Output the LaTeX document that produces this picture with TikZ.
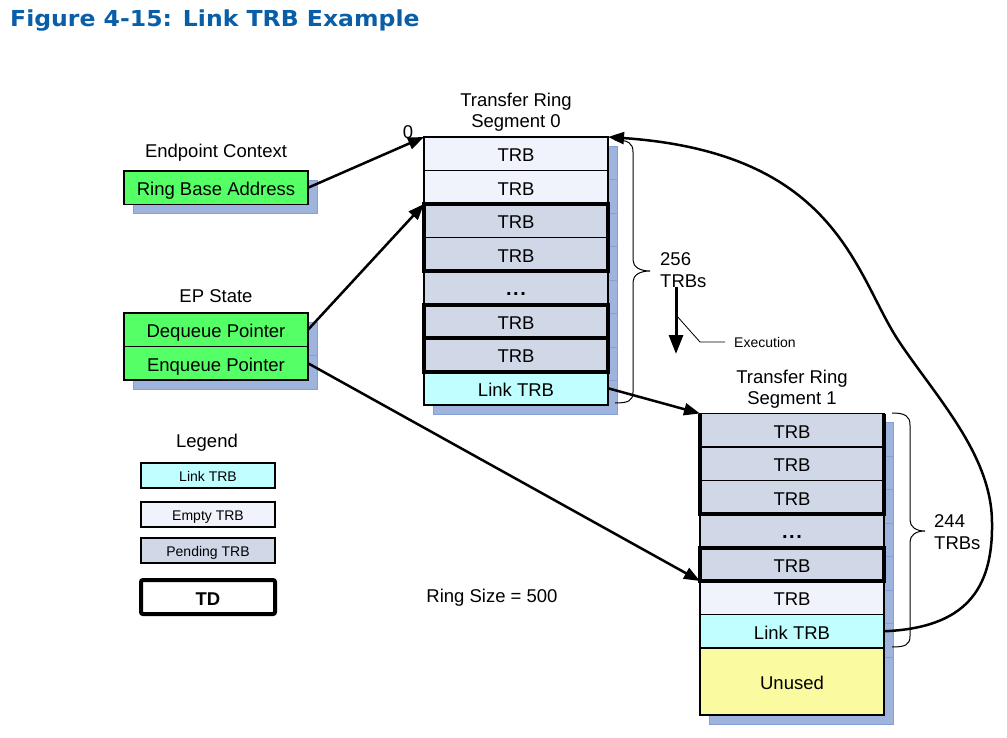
\documentclass[tikz,border=0pt]{standalone}
\usepackage{fontspec}
\setmainfont{Liberation Sans}
\newfontfamily\titlefont{DejaVu Sans}
\usetikzlibrary{arrows.meta}
\definecolor{titleblue}{RGB}{10,94,168}
\definecolor{emptyc}{RGB}{240,243,251}
\definecolor{pendc}{RGB}{208,216,232}
\definecolor{linkc}{RGB}{192,255,255}
\definecolor{unusedc}{RGB}{250,250,160}
\definecolor{greenc}{RGB}{85,255,102}
\definecolor{shadowc}{RGB}{158,180,221}
\definecolor{shadowl}{RGB}{132,160,214}
\newcommand{\mainsz}{\fontsize{18.5}{21.5}\selectfont}
\newcommand{\smallsz}{\fontsize{14}{17}\selectfont}
\newcommand{\bigdots}{{\fontsize{20}{22}\selectfont\bfseries .\kern1.5pt.\kern1.5pt.}}
\begin{document}
\begin{tikzpicture}[x=1pt,y=-1pt,
  every node/.style={font=\mainsz},
  box/.style={draw, rectangle, line width=1.2pt, minimum width=184pt, minimum height=33.5pt,
    inner sep=0pt, outer sep=0pt, text height=17pt, text depth=1pt, anchor=north west},
  emptyrow/.style={box, fill=emptyc},
  pendrow/.style={box, fill=pendc},
  linkrow/.style={box, fill=linkc},
  greenbox/.style={box, fill=greenc},
  shadowbox/.style={fill=shadowc, draw=shadowl, line width=0.8pt},
  legbox/.style={draw, rectangle, line width=1.2pt, minimum width=134pt, minimum height=25pt,
    inner sep=0pt, font=\smallsz, text height=13pt, text depth=1pt},
  td/.style={draw, line width=4pt},
  arr/.style={line width=2.5pt, -{Triangle[length=16pt,width=12pt]}},
  brace/.style={draw, line width=1pt},
  lbl/.style={inner sep=0pt}
]
\useasboundingbox (0,0) rectangle (1007,738);

% title
\node[anchor=base west, inner sep=0pt, text=titleblue, font=\titlefont\bfseries\fontsize{22}{26}\selectfont] (title) at (10,27)
  {\scalebox{1.07}[1]{Figure 4-15: Link TRB Example}};

% shadows
\foreach \y in {137,170.5,204,237.5,271,304.5,338,371.5}
  \draw[shadowbox] (433,\y+9) rectangle ++(184,33.5);
\foreach \y in {413.5,447,480.5,514,547.5,581,614.5}
  \draw[shadowbox] (709,\y+9) rectangle ++(184,33.5);
\draw[shadowbox] (709,657) rectangle ++(184,67);
\draw[shadowbox] (133,180) rectangle ++(184,33.5);
\draw[shadowbox] (133,322) rectangle ++(184,33.5);
\draw[shadowbox] (133,355.5) rectangle ++(184,33.5);

% left side
\node[lbl] (epc) at (216,153) {Endpoint Context};
\node[greenbox] (rba) at (124,171) {Ring Base Address};
\node[lbl] (eps) at (216,296) {EP State};
\node[greenbox] (deq) at (124,313) {Dequeue Pointer};
\node[greenbox] (enq) at (124,346.5) {Enqueue Pointer};

% segment 0
\node[lbl, align=center] (t0) at (516,112) {Transfer Ring\\Segment 0};
\node[lbl] (zero) at (408,132) {0};
\node[emptyrow] (s0r1) at (424,137) {TRB};
\node[emptyrow] (s0r2) at (424,170.5) {TRB};
\node[pendrow] (s0r3) at (424,204) {TRB};
\node[pendrow] (s0r4) at (424,237.5) {TRB};
\node[pendrow] (s0r5) at (424,271) {\bigdots};
\node[pendrow] (s0r6) at (424,304.5) {TRB};
\node[pendrow] (s0r7) at (424,338) {TRB};
\node[linkrow] (s0r8) at (424,371.5) {Link TRB};
\draw[td] (s0r3.north west) rectangle (s0r4.south east);
\draw[td] (s0r6.north west) rectangle (s0r6.south east);
\draw[td] (s0r7.north west) rectangle (s0r7.south east);

% segment 1
\node[lbl, align=center] (t1) at (792,389) {Transfer Ring\\Segment 1};
\node[pendrow] (s1r1) at (700,413.5) {TRB};
\node[pendrow] (s1r2) at (700,447) {TRB};
\node[pendrow] (s1r3) at (700,480.5) {TRB};
\node[pendrow] (s1r4) at (700,514) {\bigdots};
\node[pendrow] (s1r5) at (700,547.5) {TRB};
\node[emptyrow] (s1r6) at (700,581) {TRB};
\node[linkrow] (s1r7) at (700,614.5) {Link TRB};
\node[box, fill=unusedc, minimum height=67pt] (s1r8) at (700,648) {Unused};
\draw[td] (s1r1.north west) -- (s1r3.south west) -- (s1r3.south east) -- (s1r1.north east);
\draw[td] (s1r5.north west) rectangle (s1r5.south east);

% braces
\draw[brace] (615,140) .. controls (628,140) and (633,143) .. (633,152) -- (633,260)
  .. controls (633,267) and (640,271) .. (650,271) .. controls (640,271) and (633,275) .. (633,282)
  -- (633,392) .. controls (633,401) and (628,403) .. (615,403);
\node[lbl, anchor=west, align=left] (n256) at (660,270) {256\\TRBs};
\draw[brace] (892,413) .. controls (905,413) and (910,416) .. (910,425) -- (910,520)
  .. controls (910,527) and (916,531) .. (925,531) .. controls (916,531) and (910,535) .. (910,542)
  -- (910,636) .. controls (910,645) and (905,647) .. (892,647);
\node[lbl, anchor=west, align=left] (n244) at (934,532) {244\\TRBs};

% execution arrow
\coordinate (ex1) at (676,287);
\coordinate (ex2) at (676,354);
\coordinate (exl) at (676,315);
\coordinate (exm) at (700,342);
\coordinate (exe) at (725,342);
\draw[line width=3pt, -{Triangle[length=19pt,width=14pt]}] (ex1) -- (ex2);
\draw[line width=0.8pt] (exl) -- (exm) -- (exe);
\node[lbl, anchor=west, font=\smallsz] (exec) at (734,342) {Execution};

% connectors
\draw[arr] (rba.east) -- (s0r1.north west);
\draw[arr] (deq.east) -- (s0r3.north west);
\draw[arr] (enq.east) -- (s1r6.north west);
\draw[arr] (s0r8.east) -- (s1r1.north west);
\draw[arr] (s1r7.east) .. controls (965,628) and (993,590) .. (992,523)
  .. controls (992,456) and (937.5,398.6) .. (900,343)
  .. controls (855,276.6) and (840,153) .. (s0r1.north east);

% legend
\node[lbl] (leg) at (207,443) {Legend};
\node[legbox, fill=linkc] (lg1) at (208,475.5) {Link TRB};
\node[legbox, fill=emptyc] (lg2) at (208,514.5) {Empty TRB};
\node[legbox, fill=pendc] (lg3) at (208,550.5) {Pending TRB};
\node[draw, line width=4pt, rounded corners=2pt, minimum width=134pt, minimum height=34pt,
  inner sep=0pt, font=\mainsz\bfseries, text height=17pt, text depth=1pt] (lg4) at (208,597) {TD};

\node[lbl] (rs) at (492,598) {Ring Size = 500};
\end{tikzpicture}
\end{document}
